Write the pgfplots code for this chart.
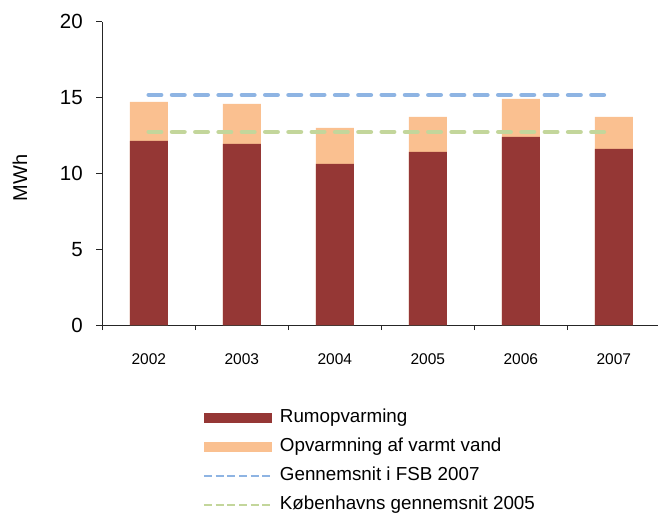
\documentclass[border=0pt]{standalone}
\usepackage{pgfplots}
\pgfplotsset{compat=1.18}
\usepackage{fontspec}
\setmainfont{Liberation Sans}
\definecolor{cRed}{HTML}{953735}
\definecolor{cOrange}{HTML}{FAC090}
\definecolor{cBlue}{HTML}{8EB4E3}
\definecolor{cGreen}{HTML}{C3D69B}
\begin{document}
\begin{tikzpicture}
\path[use as bounding box] (-102.3pt,-187pt) rectangle (555.7pt,325pt);
\begin{axis}[
  at={(0,0)}, anchor=south west,
  scale only axis, width=558pt, height=303.3pt,
  xmin=-0.5, xmax=5.5, ymin=0, ymax=20,
  axis lines=left, axis line style={-, black!85, line width=0.9pt},
  every tick/.style={black!85, line width=0.9pt},
  tick align=outside, major tick length=6pt, minor tick length=5pt,
  ytick={0,5,10,15,20},
  xtick={0,1,2,3,4,5},
  xticklabels={2002,2003,2004,2005,2006,2007},
  major x tick style={draw=none},
  minor xtick={-0.5,0.5,1.5,2.5,3.5,4.5,5.5},
  /pgf/number format/assume math mode=true,
  yticklabel style={font=\fontsize{20.5}{24}\selectfont, xshift=-10pt},
  xticklabel style={font=\fontsize{15.5}{18}\selectfont, yshift=-19pt},
  ylabel={MWh},
  ylabel style={font=\fontsize{20}{24}\selectfont, at={(axis description cs:-0.1475,0.4847)}, anchor=center},
  legend style={at={(axis description cs:0.18,-0.278)}, anchor=north west, draw=none, fill=none,
    inner sep=0pt, row sep=12pt, font=\fontsize{18.8}{22}\selectfont,
    nodes={inner sep=0pt, text height=13pt, text depth=4pt}},
  legend cell align=left,
  legend columns=1,
  barleg/.style={legend image code/.code={\fill[##1] (0pt,-5pt) rectangle (68pt,5pt); \path (75pt,0pt);}},
  lineleg/.style={legend image code/.code={\draw[##1] (0pt,0pt) -- (68pt,0pt); \path (75pt,0pt);}},
]
\addlegendimage{barleg, fill=cRed, draw=none}
\addlegendentry{Rumopvarming}
\addlegendimage{barleg, fill=cOrange, draw=none}
\addlegendentry{Opvarmning af varmt vand}
\addlegendimage{lineleg, cBlue, line width=2pt, dash pattern=on 8pt off 3.7pt}
\addlegendentry{Gennemsnit i FSB 2007}
\addlegendimage{lineleg, cGreen, line width=2pt, dash pattern=on 8pt off 3.7pt}
\addlegendentry{Københavns gennemsnit 2005}

% total (Rumopvarming + Opvarmning af varmt vand)
\addplot[ybar, bar width=38pt, bar shift=0pt, fill=cOrange, draw=none, forget plot]
  coordinates {(0,14.71) (1,14.58) (2,13.00) (3,13.72) (4,14.91) (5,13.72)};
% Rumopvarming
\addplot[ybar, bar width=38pt, bar shift=0pt, fill=cRed, draw=none, forget plot]
  coordinates {(0,12.14) (1,11.94) (2,10.62) (3,11.41) (4,12.40) (5,11.61)};
% averages
\addplot[cBlue, line width=4.7pt, line cap=round, dash pattern=on 12.3pt off 11pt, forget plot]
  coordinates {(0,15.17) (5,15.17)};
\addplot[cGreen, line width=4.7pt, line cap=round, dash pattern=on 12.3pt off 11pt, forget plot]
  coordinates {(0,12.73) (5,12.73)};
\end{axis}
\end{tikzpicture}
\end{document}
